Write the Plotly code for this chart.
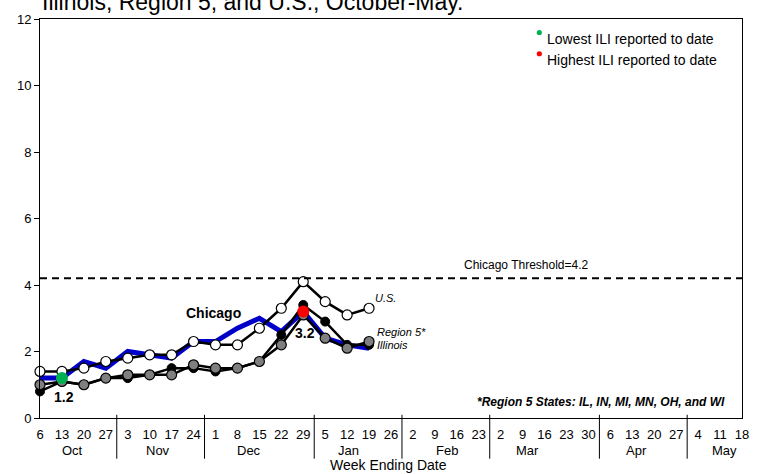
import plotly.graph_objects as go

# ---------------- data ----------------
week_days = [6, 13, 20, 27, 3, 10, 17, 24, 1, 8, 15, 22, 29, 5, 12, 19, 26,
             2, 9, 16, 23, 2, 9, 16, 23, 30, 6, 13, 20, 27, 4, 11, 18]
months = ["Oct", "Nov", "Dec", "Jan", "Feb", "Mar", "Apr", "May"]
month_weeks = [4, 4, 5, 4, 4, 5, 4, 3]

chicago = [1.2, 1.2, 1.7, 1.5, 2.0, 1.9, 1.8, 2.3, 2.3, 2.7, 3.0, 2.6, 3.2, 2.4, 2.2, 2.1]
illinois = [0.8, 1.1, 1.0, 1.2, 1.2, 1.3, 1.5, 1.5, 1.4, 1.5, 1.7, 2.5, 3.4, 2.9, 2.2, 2.2]
region5 = [1.0, 1.1, 1.0, 1.2, 1.3, 1.3, 1.3, 1.6, 1.5, 1.5, 1.7, 2.2, 3.1, 2.4, 2.1, 2.3]
us = [1.4, 1.4, 1.5, 1.7, 1.8, 1.9, 1.9, 2.3, 2.2, 2.2, 2.7, 3.3, 4.1, 3.5, 3.1, 3.3]

chicago_low_week = 1
chicago_high_week = 12
threshold = 4.2

title_line = "Illinois, Region 5, and U.S., October-May."

# ---------------- figure ----------------
FONT = "Arial, Liberation Sans, sans-serif"
weeks = list(range(len(us)))

fig = go.Figure()
fig.add_trace(go.Scatter(x=weeks, y=chicago, mode="lines",
                         line=dict(color="#0000C8", width=5),
                         cliponaxis=False, showlegend=False))
fig.add_trace(go.Scatter(x=weeks, y=illinois, mode="lines+markers",
                         line=dict(color="black", width=2.5),
                         marker=dict(size=9, color="black", line=dict(color="black", width=1)),
                         cliponaxis=False, showlegend=False))
fig.add_trace(go.Scatter(x=weeks, y=region5, mode="lines+markers",
                         line=dict(color="black", width=2.5),
                         marker=dict(size=10, color="#7f7f7f", line=dict(color="black", width=1.2)),
                         cliponaxis=False, showlegend=False))
fig.add_trace(go.Scatter(x=weeks, y=us, mode="lines+markers",
                         line=dict(color="black", width=2.5),
                         marker=dict(size=10, color="white", line=dict(color="black", width=1.2)),
                         cliponaxis=False, showlegend=False))
fig.add_trace(go.Scatter(x=[chicago_low_week], y=[chicago[chicago_low_week]], mode="markers",
                         marker=dict(size=12, color="#00B050"),
                         cliponaxis=False, showlegend=False))
fig.add_trace(go.Scatter(x=[chicago_high_week], y=[chicago[chicago_high_week]], mode="markers",
                         marker=dict(size=12, color="#FF0000"),
                         cliponaxis=False, showlegend=False))

shapes = []
# threshold
shapes.append(dict(type="line", xref="paper", yref="y", x0=0, x1=1, y0=threshold, y1=threshold,
                   line=dict(color="black", width=2, dash="7px,5px")))
# month separators
pos = -0.5
for n in month_weeks[:-1]:
    pos += n
    shapes.append(dict(type="line", xref="x", yref="paper", x0=pos, x1=pos, y0=0.008, y1=-0.102,
                       line=dict(color="black", width=1)))
# legend dots
for yy, col in [(0.9662, "#00B050"), (0.9129, "#FF0000")]:
    shapes.append(dict(type="circle", xref="paper", yref="paper", xsizemode="pixel", ysizemode="pixel",
                       xanchor=0.7113, yanchor=yy, x0=-2.6, x1=2.6, y0=-2.6, y1=2.6,
                       fillcolor=col, line=dict(width=0)))

ann = []
def A(**kw):
    base = dict(showarrow=False, font=dict(family=FONT, size=13, color="black"))
    if "font" in kw:
        f = dict(base["font"]); f.update(kw.pop("font")); base["font"] = f
    base.update(kw)
    ann.append(base)

A(text=title_line, xref="paper", yref="paper", x=0, y=1.005, xanchor="left", yanchor="bottom",
  font=dict(size=23))
A(text="Lowest ILI reported to date", xref="paper", yref="paper", x=0.7194, y=0.9506,
  xanchor="left", yanchor="middle", font=dict(size=14))
A(text="Highest ILI reported to date", xref="paper", yref="paper", x=0.7194, y=0.8963,
  xanchor="left", yanchor="middle", font=dict(size=14))
A(text="Chicago Threshold=" + str(threshold), xref="paper", yref="y", x=0.6937, y=4.6,
  xanchor="center", yanchor="middle", font=dict(size=12))
A(text="<b>Chicago</b>", xref="x", yref="y", x=7.93, y=3.15, xanchor="center", yanchor="middle",
  font=dict(size=14))
A(text="<b>%.1f</b>" % chicago[chicago_low_week], xref="x", yref="y", x=1.09, y=0.64,
  xanchor="center", yanchor="middle", font=dict(size=14))
A(text="<b>%.1f</b>" % chicago[chicago_high_week], xref="x", yref="y", x=12.06, y=2.56,
  xanchor="center", yanchor="middle", font=dict(size=14))
A(text="<i>U.S.</i>", xref="x", yref="y", x=15.18, y=3.6, xanchor="left", yanchor="middle",
  font=dict(size=11))
A(text="<i>Region 5*</i>", xref="x", yref="y", x=15.27, y=2.59, xanchor="left", yanchor="middle",
  font=dict(size=11))
A(text="<i>Illinois</i>", xref="x", yref="y", x=15.27, y=2.2, xanchor="left", yanchor="middle",
  font=dict(size=11))
A(text="<b><i>*Region 5 States: IL, IN, MI, MN, OH, and WI</i></b>", xref="paper", yref="paper",
  x=0.9786, y=0.041, xanchor="right", yanchor="middle", font=dict(size=12))

month_x = [1.5, 5.38, 9.53, 14.04, 18.55, 22.24, 27.2, 31.2]
for m, mx in zip(months, month_x):
    A(text=m, xref="x", yref="paper", x=mx, y=-0.0824, xanchor="center", yanchor="middle")
A(text="Week Ending Date", xref="paper", yref="paper", x=0.496, y=-0.1177,
  xanchor="center", yanchor="middle", font=dict(size=14))

fig.update_layout(
    width=763, height=474,
    margin=dict(l=40, r=21, t=13, b=56),
    paper_bgcolor="white", plot_bgcolor="white",
    font=dict(family=FONT, size=13, color="black"),
    shapes=shapes, annotations=ann, showlegend=False,
    xaxis=dict(range=[0, 32], tickmode="array", tickvals=list(range(len(week_days))),
               ticktext=[str(d) for d in week_days], ticks="", ticklabelstandoff=4,
               showgrid=False, zeroline=False, showline=True, mirror=True,
               linecolor="black", linewidth=1, tickfont=dict(size=13)),
    yaxis=dict(range=[0, 12], dtick=2, ticks="outside", ticklen=5, tickcolor="black",
               showgrid=False, zeroline=False, showline=True, mirror=True,
               linecolor="black", linewidth=1, tickfont=dict(size=13)),
)

fig.write_html("out.html", config={"displayModeBar": False},
               post_script="document.body.style.margin='0';document.body.style.padding='0';")
